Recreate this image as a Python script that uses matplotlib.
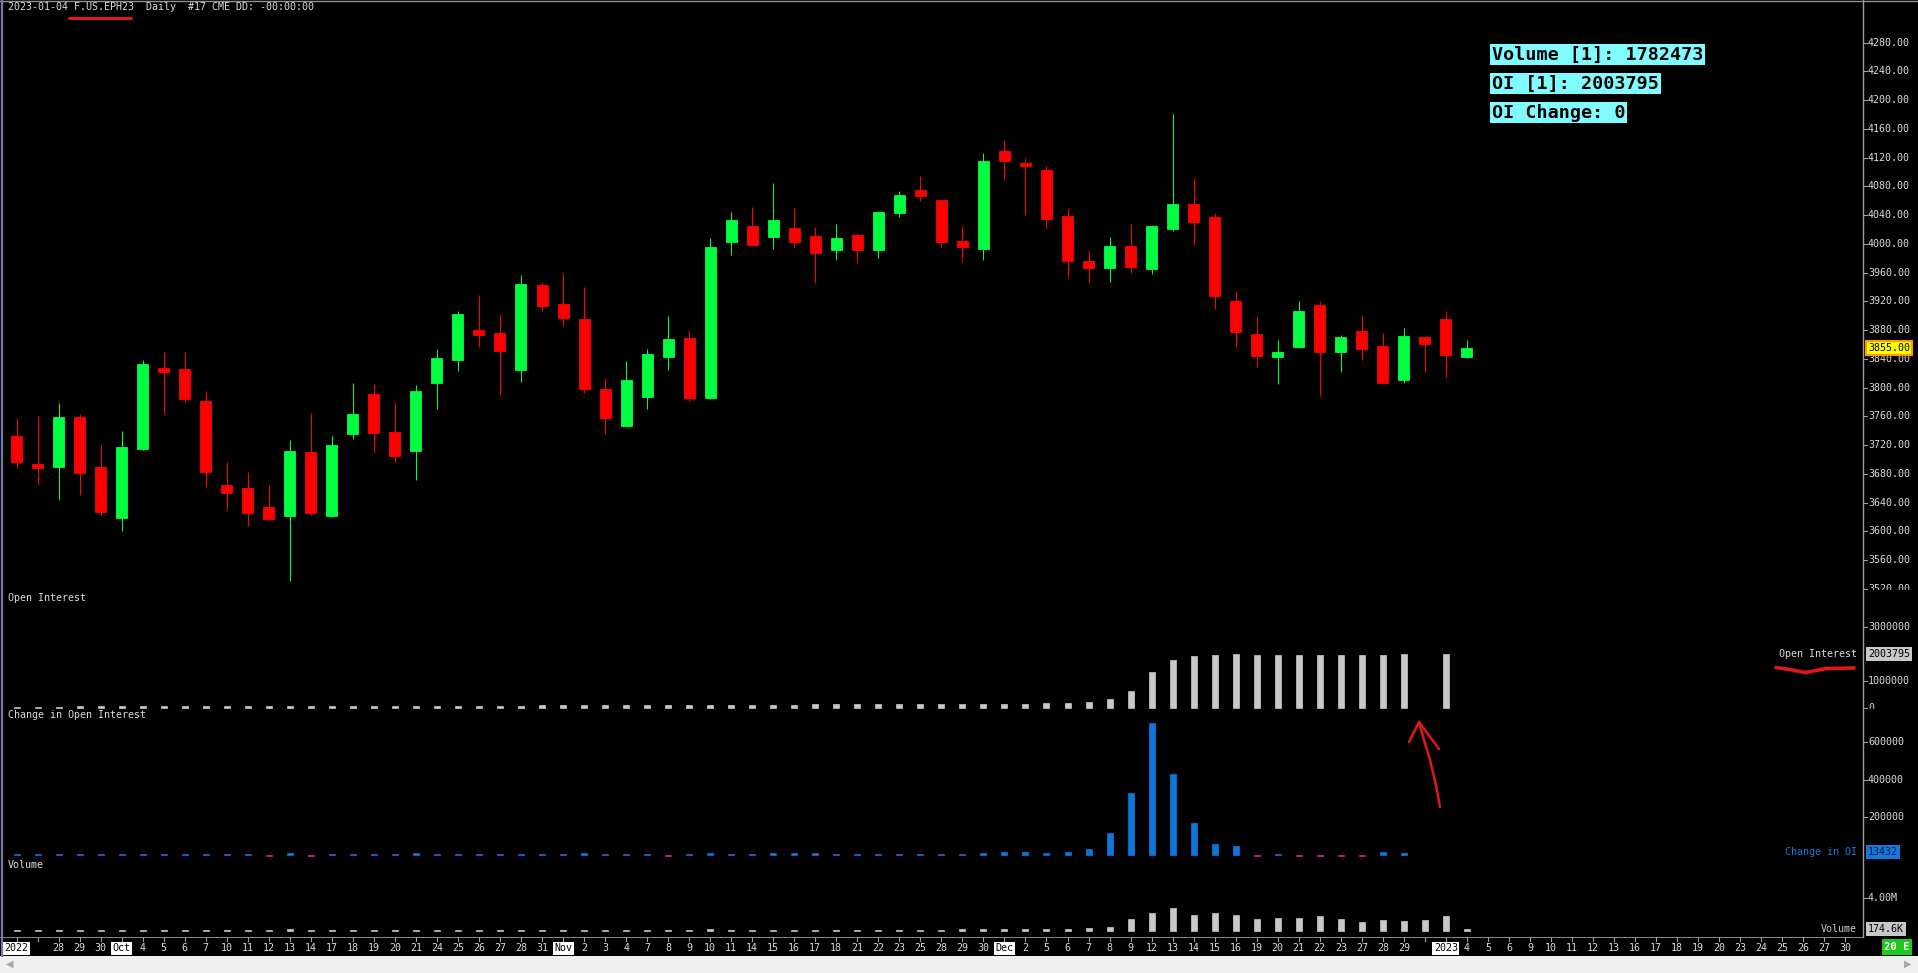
import numpy as np
import matplotlib
matplotlib.use("Agg")
import matplotlib.pyplot as plt
from matplotlib.lines import Line2D

# ---- data (F.US.EPH23 daily, 2022-09-26 .. 2023-01-04) ----
opens = [3732, 3694, 3690, 3759, 3690, 3619, 3715, 3827, 3826, 3781,
         3665, 3660, 3634, 3621, 3710, 3621, 3735, 3791, 3738, 3712,
         3807, 3838, 3880, 3876, 3825, 3943, 3916, 3896, 3798, 3747,
         3787, 3842, 3869, 3786, 4002, 4025, 4009, 4022, 4011, 3991,
         4012, 3992, 4043, 4075, 4061, 4004, 3993, 4129, 4113, 4103,
         4039, 3976, 3967, 3997, 3965, 4021, 4056, 4037, 3921, 3875,
         3842, 3857, 3915, 3850, 3879, 3858, 3810, 3870, 3896, 3842]
highs = [3758, 3760, 3778, 3763, 3720, 3740, 3838, 3849, 3849, 3795,
         3696, 3682, 3664, 3727, 3765, 3733, 3807, 3805, 3778, 3803,
         3853, 3906, 3929, 3902, 3957, 3947, 3959, 3940, 3813, 3837,
         3853, 3900, 3880, 4008, 4044, 4052, 4085, 4050, 4023, 4028,
         4015, 4046, 4074, 4094, 4061, 4025, 4127, 4144, 4119, 4108,
         4049, 3992, 4010, 4028, 4026, 4181, 4091, 4043, 3934, 3900,
         3866, 3920, 3921, 3873, 3901, 3876, 3883, 3872, 3907, 3866]
lows = [3688, 3664, 3643, 3650, 3623, 3600, 3713, 3763, 3780, 3662,
        3629, 3608, 3615, 3531, 3622, 3620, 3729, 3709, 3697, 3671,
        3770, 3823, 3857, 3789, 3808, 3906, 3886, 3793, 3735, 3746,
        3770, 3825, 3781, 3784, 3985, 3998, 3993, 3996, 3946, 3977,
        3973, 3980, 4038, 4060, 3995, 3975, 3977, 4089, 4040, 4021,
        3953, 3946, 3947, 3960, 3958, 4018, 3998, 3909, 3856, 3828,
        3805, 3856, 3789, 3822, 3838, 3806, 3807, 3822, 3815, 3841]
closes = [3697, 3688, 3759, 3681, 3627, 3717, 3833, 3822, 3784, 3682,
          3653, 3626, 3617, 3712, 3626, 3720, 3763, 3737, 3705, 3795,
          3841, 3903, 3873, 3851, 3944, 3914, 3897, 3798, 3758, 3811,
          3847, 3868, 3786, 3995, 4033, 3999, 4033, 4002, 3988, 4008,
          3991, 4045, 4068, 4066, 4003, 3995, 4115, 4115, 4109, 4035,
          3976, 3967, 3997, 3968, 4025, 4056, 4031, 3927, 3878, 3844,
          3850, 3907, 3849, 3870, 3854, 3806, 3872, 3860, 3845, 3855]

open_interest = [62000, 64000, 65500, 67000, 68500, 70000, 71500, 73000, 74500, 76000,
                 77500, 79000, 77000, 84000, 82000, 83500, 85000, 86500, 88000, 95000,
                 96500, 98000, 99500, 101000, 102500, 104000, 105500, 112000, 113500, 115000,
                 116500, 114500, 116000, 122000, 123500, 125000, 131000, 137000, 143000, 144500,
                 146000, 147500, 149000, 150500, 152000, 153500, 150000, 150000, 150000, 185000,
                 185000, 220000, 335000, 635000, 1335000, 1780000, 1935000, 1965000, 2005000, 1975000,
                 1978000, 1973000, 1967000, 1962000, 1958000, 1978000, 2005000, np.nan, 2003795, np.nan]

oi_change = [4000, 4000, 4000, 4000, 4000, 4000, 4000, 4000, 4000, 4000,
             4000, 4000, -4000, 9000, -4000, 4000, 4000, 4000, 4000, 9000,
             4000, 4000, 4000, 4000, 4000, 4000, 4000, 9000, 4000, 4000,
             4000, -4000, 4000, 9000, 4000, 4000, 9000, 9000, 9000, 4000,
             4000, 4000, 4000, 4000, 4000, 4000, 9000, 16000, 16000, 9000,
             16000, 30000, 117000, 330000, 703000, 432000, 168000, 60000, 48000, -8000,
             4000, -5000, -6000, -6000, -5000, 16000, 9000, np.nan, np.nan, np.nan]

volume = [110000, 95000, 120000, 105000, 100000, 115000, 98000, 102000, 96000, 108000,
          112000, 99000, 118000, 125000, 104000, 97000, 101000, 103000, 99000, 114000,
          100000, 98000, 102000, 106000, 110000, 104000, 112000, 120000, 108000, 102000,
          106000, 114000, 118000, 130000, 112000, 108000, 116000, 110000, 114000, 106000,
          112000, 118000, 104000, 98000, 120000, 124000, 130000, 150000, 150000, 150000,
          150000, 270000, 380000, 1430000, 2130000, 2710000, 1900000, 2130000, 1900000, 1430000,
          1550000, 1550000, 1780000, 1430000, 1080000, 1320000, 1200000, 1320000, 1782473, 174600]

date_labels = ["2022", "", "28", "29", "30", "Oct", "4", "5", "6", "7",
               "10", "11", "12", "13", "14", "17", "18", "19", "20", "21",
               "24", "25", "26", "27", "28", "31", "Nov", "2", "3", "4",
               "7", "8", "9", "10", "11", "14", "15", "16", "17", "18",
               "21", "22", "23", "25", "28", "29", "30", "Dec", "2", "5",
               "6", "7", "8", "9", "12", "13", "14", "15", "16", "19",
               "20", "21", "22", "23", "27", "28", "29", "", "2023", "4",
               "5", "6", "9", "10", "11", "12", "13", "16", "17", "18",
               "19", "20", "23", "24", "25", "26", "27", "30"]
boxed_labels = {"2022", "Oct", "Nov", "Dec", "2023"}

price_ticks = list(range(3520, 4281, 40))
oi_ticks = [0, 1000000, 3000000]
chg_ticks = [200000, 400000, 600000]
vol_ticks = [4000000]

last_oi_change_label = "13432"
oi_change_text = "OI Change: 0"

# ---- layout (pixel based) ----
W, H = 1918, 973
MONO = "DejaVu Sans Mono"
FS = 7.2
AXIS_X = 1863
BAR_STEP = 21.02
X0 = 16.5
BG = "black"
GREEN = "#00ff41"
RED = "#ff0000"
GREY_BAR = "#c8c8c8"
BLUE = "#0a78dc"
PINK = "#e0208a"
TXT = "#dcdcdc"

fig = plt.figure(figsize=(W / 100, H / 100), dpi=100, facecolor=BG)


def fx(x):
    return x / W


def fy(y):
    return 1 - y / H


def panel(top, bottom):
    ax = fig.add_axes([0, fy(bottom), 1, (bottom - top) / H])
    ax.set_facecolor(BG)
    ax.set_xlim(-X0 / BAR_STEP, (W - X0) / BAR_STEP)
    for s in ax.spines.values():
        s.set_visible(False)
    ax.set_xticks([])
    ax.set_yticks([])
    return ax


def right_ticks(ax, ticks, fmt):
    tr = ax.get_yaxis_transform()
    for t in ticks:
        ax.plot([fx(AXIS_X + 1), fx(AXIS_X + 4)], [t, t], color="#a0a0a0", lw=0.8,
                transform=tr, clip_on=True)
        ax.text(fx(AXIS_X + 5), t, fmt(t), transform=tr, color=TXT, fontsize=FS,
                family=MONO, va="center", ha="left", clip_on=True)


def value_box(ax, y, label, value_text, label_color, box_color, text_color):
    tr = ax.get_yaxis_transform()
    if label:
        ax.text(fx(AXIS_X - 6), y, label, transform=tr, color=label_color, fontsize=FS,
                family=MONO, va="center", ha="right")
    ax.text(fx(AXIS_X + 5), y, value_text, transform=tr, color=text_color, fontsize=FS,
            family=MONO, va="center", ha="left",
            bbox=dict(boxstyle="square,pad=0.18", fc=box_color, ec="none"))


x = np.arange(len(opens))

# price panel
ax_p = panel(1, 590)
ax_p.set_ylim(4280 - (590 - 42.7) / 0.7185, 4280 + (42.7 - 1) / 0.7185)
cols = [GREEN if c >= o else RED for o, c in zip(opens, closes)]
ax_p.vlines(x, lows, highs, colors=cols, lw=0.75)
body_lo = np.minimum(opens, closes)
body_h = np.abs(np.array(closes) - np.array(opens))
ax_p.bar(x, body_h, bottom=body_lo, width=11 / BAR_STEP, color=cols,
         edgecolor=cols, linewidth=0.6)
right_ticks(ax_p, price_ticks, lambda v: f"{v:.2f}")
ax_p.text(fx(AXIS_X + 5), closes[-1], f"{closes[-1]:.2f}", transform=ax_p.get_yaxis_transform(),
          color="black", fontsize=FS, family=MONO, va="center", ha="left",
          bbox=dict(boxstyle="square,pad=0.2", fc="#ffff00", ec="#ff9a00", lw=1.5))

# open interest panel
ax_oi = panel(590, 708.5)
ax_oi.set_ylim(-8000, (708.3 - 590) / 27 * 1e6)
ax_oi.bar(x, open_interest, width=6 / BAR_STEP, color=GREY_BAR, edgecolor=GREY_BAR, linewidth=0.5)
right_ticks(ax_oi, oi_ticks, lambda v: f"{int(v)}")
ax_oi.text(fx(8), 0.93, "Open Interest", transform=ax_oi.transAxes, color=TXT,
           fontsize=FS, family=MONO, va="center", ha="left")
value_box(ax_oi, open_interest[68], "Open Interest", f"{int(open_interest[68])}",
          TXT, GREY_BAR, "black")

# change in open interest panel
ax_c = panel(708.5, 860)
ax_c.set_ylim(-(860 - 854.8) * 5333.3, (854.8 - 708.5) * 5333.3)
chg = np.array(oi_change, dtype=float)
ccols = [BLUE if (np.isnan(v) or v >= 0) else PINK for v in chg]
ax_c.bar(x, chg, width=6 / BAR_STEP, color=ccols, edgecolor=ccols, linewidth=0.5)
right_ticks(ax_c, chg_ticks, lambda v: f"{int(v)}")
ax_c.text(fx(8), 1 - 6.5 / 151.5, "Change in Open Interest", transform=ax_c.transAxes,
          color=TXT, fontsize=FS, family=MONO, va="center", ha="left")
value_box(ax_c, int(last_oi_change_label), "Change in OI", last_oi_change_label,
          "#1a7ad6", "#1478dc", "#081a3a")

# volume panel
ax_v = panel(860, 937)
px_per_unit = 8.2 / 1e6
ax_v.set_ylim(-(937 - 930.5) / px_per_unit, (930.5 - 860) / px_per_unit)
ax_v.bar(x, volume, width=6 / BAR_STEP, color=GREY_BAR, edgecolor=GREY_BAR, linewidth=0.5)
right_ticks(ax_v, vol_ticks, lambda v: f"{v / 1e6:.2f}M")
ax_v.text(fx(8), 1 - 5 / 77, "Volume", transform=ax_v.transAxes, color=TXT,
          fontsize=FS, family=MONO, va="center", ha="left")
value_box(ax_v, volume[-1], "Volume", f"{volume[-1] / 1000:.1f}K", GREY_BAR, GREY_BAR, "black")

# date axis
ax_x = panel(937, 956)
ax_x.set_ylim(0, 1)
for i, lab in enumerate(date_labels):
    ax_x.plot([i, i], [1, 0.8], color="#a0a0a0", lw=0.8)
    if not lab:
        continue
    if lab in boxed_labels:
        ax_x.text(i, 0.42, lab, color="black", fontsize=FS, family=MONO, ha="center",
                  va="center", bbox=dict(boxstyle="square,pad=0.15", fc="white", ec="none"))
    else:
        ax_x.text(i, 0.42, lab, color=TXT, fontsize=FS, family=MONO, ha="center", va="center")
ax_x.plot([-X0 / BAR_STEP, (AXIS_X - X0) / BAR_STEP], [1, 1], color="#a0a0a0", lw=1.2)
fig.text(fx(1897), fy(947), "20 E", color="white", fontsize=FS + 0.5, family=MONO,
         ha="center", va="center", fontweight="bold",
         bbox=dict(boxstyle="square,pad=0.25", fc="#1ec81e", ec="none"))

# scrollbar strip
ax_s = fig.add_axes([0, 0, 1, (973 - 956) / H])
ax_s.set_facecolor("#f0f0f0")
ax_s.set_xticks([])
ax_s.set_yticks([])
for s in ax_s.spines.values():
    s.set_visible(False)
fig.text(fx(10), fy(964), "\u25c0", color="#a8a8a8", fontsize=7, ha="center", va="center")
fig.text(fx(1908), fy(964), "\u25b6", color="#a8a8a8", fontsize=7, ha="center", va="center")

# frame lines
fig.add_artist(Line2D([fx(AXIS_X), fx(AXIS_X)], [fy(0), fy(937)], color="#a0a0a0", lw=1.0,
                      transform=fig.transFigure))
fig.add_artist(Line2D([0, 1], [fy(0.5), fy(0.5)], color="#909090", lw=1.0, transform=fig.transFigure))
fig.add_artist(Line2D([fx(1.5), fx(1.5)], [fy(0), fy(956)], color="#7878a8", lw=1.6,
                      transform=fig.transFigure))

# header
fig.text(fx(8), fy(7.5), "2023-01-04 F.US.EPH23  Daily  #17 CME DD: -00:00:00", color=TXT,
         fontsize=FS, family=MONO, ha="left", va="center")

# info box
info_lines = [f"Volume [1]: {volume[68]}", f"OI [1]: {int(open_interest[68])}", oi_change_text]
for k, line in enumerate(info_lines):
    fig.text(fx(1492), fy(54.5 + 29 * k), line, color="black", fontsize=13.2, family=MONO,
             fontweight="bold", ha="left", va="center",
             bbox=dict(boxstyle="square,pad=0.1", fc="#80fcff", ec="none"))

# red hand-drawn marks
def red_mark(xs, ys, lw=2.2):
    fig.add_artist(Line2D([fx(v) for v in xs], [fy(v) for v in ys], color="#e01818", lw=lw,
                          solid_capstyle="round", transform=fig.transFigure))


red_mark([69, 131], [17.5, 17.5])
red_mark([1776, 1790, 1805, 1827, 1854], [667.5, 669.5, 672.5, 668.5, 668], lw=2.6)
red_mark([1440, 1436, 1430, 1424, 1419], [807, 785, 760, 740, 722], lw=1.8)
red_mark([1409, 1419, 1439], [742, 722, 749], lw=1.8)

fig.savefig("out.png", dpi=100, facecolor=BG)
